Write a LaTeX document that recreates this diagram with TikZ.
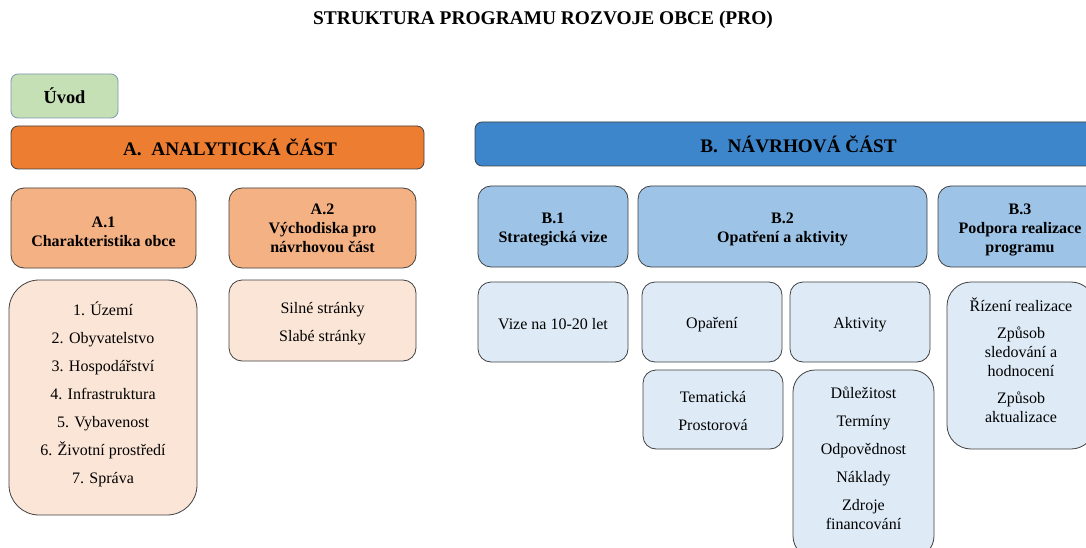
\documentclass[tikz,border=0pt]{standalone}
\usepackage{fontspec}
\setmainfont{Liberation Serif}
\definecolor{uvodfill}{HTML}{C5E0B4}
\definecolor{uvodline}{HTML}{7A96B0}
\definecolor{abarfill}{HTML}{ED7D31}
\definecolor{ahdrfill}{HTML}{F4B183}
\definecolor{alstfill}{HTML}{FBE5D6}
\definecolor{bbarfill}{HTML}{3E86CB}
\definecolor{bhdrfill}{HTML}{9DC3E6}
\definecolor{blstfill}{HTML}{DEEBF7}
\definecolor{edge}{HTML}{404040}
\begin{document}
\begin{tikzpicture}[x=1pt,y=-1pt,
  box/.style={draw=edge, line width=0.8pt, inner sep=0pt, rounded corners=#1},
  box/.default=13pt,
  hdrtxt/.style={align=center, inner sep=0pt, font=\bfseries\fontsize{16}{19}\selectfont},
  bartxt/.style={inner sep=0pt, font=\bfseries\fontsize{19.2}{23}\selectfont},
  txt/.style={align=center, inner sep=0pt, font=\fontsize{16}{19}\selectfont}]
\useasboundingbox (0,0) rectangle (1086,548);
\clip (0,0) rectangle (1086,548);

% title
\node[inner sep=0pt, font=\bfseries\fontsize{19.4}{23}\selectfont] (title) at (543,20) {STRUKTURA PROGRAMU ROZVOJE OBCE (PRO)};

% Uvod
\node[box=7pt, draw=uvodline, fill=uvodfill, minimum width=107pt, minimum height=44pt, font=\bfseries\fontsize{18.4}{22}\selectfont] (uvod) at (64.5,96) {Úvod};

% A part
\node[box=7pt, fill=abarfill, minimum width=413pt, minimum height=43pt] (abar) at (217.5,147.5) {};
\node[bartxt] (abartxt) at (230,147.5) {A.\ \ ANALYTICKÁ ČÁST};

\node[box, fill=ahdrfill, minimum width=185pt, minimum height=80pt] (a1) at (103.5,228) {};
\node[hdrtxt] (a1txt) at (103.5,232) {A.1\\Charakteristika obce};
\node[box, fill=ahdrfill, minimum width=187pt, minimum height=80pt] (a2) at (322.5,228) {};
\node[hdrtxt] (a2txt) at (322.5,228) {A.2\\Východiska pro\\návrhovou část};

\node[box=30pt, fill=alstfill, minimum width=188pt, minimum height=235pt] (a1l) at (103,397.5) {};
\node[txt] (a1ltxt) at (103,394) {1. Území\\[9pt]2. Obyvatelstvo\\[9pt]3. Hospodářství\\[9pt]4. Infrastruktura\\[9pt]5. Vybavenost\\[9pt]6. Životní prostředí\\[9pt]7. Správa};
\node[box, fill=alstfill, minimum width=187pt, minimum height=81pt] (a2l) at (322.5,320.5) {};
\node[txt] (a2ltxt) at (322.5,324) {Silné stránky\\[9pt]Slabé stránky};

% B part
\node[box=7pt, fill=bbarfill, minimum width=647pt, minimum height=44pt] (bbar) at (798.5,144) {};
\node[bartxt] (bbartxt) at (798.5,144) {B.\ \ NÁVRHOVÁ ČÁST};

\node[box, fill=bhdrfill, minimum width=150pt, minimum height=81pt] (b1) at (553,226.5) {};
\node[hdrtxt] (b1txt) at (553,229) {B.1\\Strategická vize};
\node[box, fill=bhdrfill, minimum width=289pt, minimum height=81pt] (b2) at (782.5,226.5) {};
\node[hdrtxt] (b2txt) at (782.5,229.5) {B.2\\Opatření a aktivity};
\node[box, fill=bhdrfill, minimum width=164pt, minimum height=81pt] (b3) at (1020,226.5) {};
\node[hdrtxt] (b3txt) at (1020,229.5) {B.3\\Podpora realizace\\programu};

\node[box, fill=blstfill, minimum width=150pt, minimum height=80pt] (vize) at (553,322) {};
\node[txt] (vizetxt) at (553,324) {Vize na 10-20 let};
\node[box, fill=blstfill, minimum width=140pt, minimum height=80pt] (opa) at (712,322) {};
\node[txt] (opatxt) at (712,325) {Opaření};
\node[box, fill=blstfill, minimum width=140pt, minimum height=80pt] (akt) at (860,322) {};
\node[txt] (akttxt) at (860,325) {Aktivity};
\node[box, fill=blstfill, minimum width=140pt, minimum height=79pt] (tem) at (713,409.5) {};
\node[txt] (temtxt) at (713,411.5) {Tematická\\[9pt]Prostorová};

\node[box=22pt, fill=blstfill, minimum width=141pt, minimum height=188pt] (dul) at (863.5,464) {};
\node[txt] (dultxt) at (863.5,458) {Důležitost\\[9pt]Termíny\\[9pt]Odpovědnost\\[9pt]Náklady\\[9pt]Zdroje\\financování};

\node[box=24pt, fill=blstfill, minimum width=148pt, minimum height=167pt] (b3l) at (1021,365.5) {};
\node[txt] (b3ltxt) at (1021,360) {Řízení realizace\\[8pt]Způsob\\sledování a\\hodnocení\\[8pt]Způsob\\aktualizace};
\end{tikzpicture}
\end{document}
